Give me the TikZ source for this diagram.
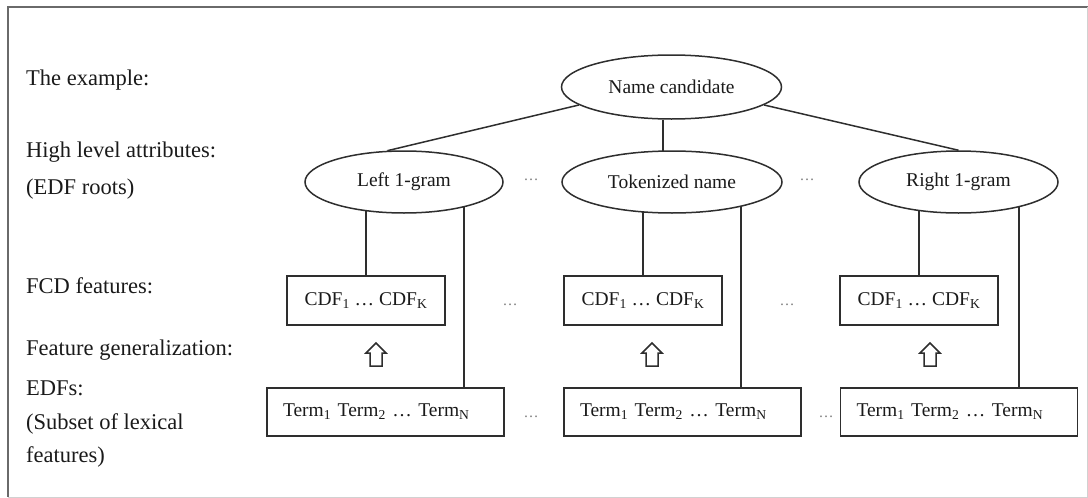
\documentclass[tikz,border=0pt]{standalone}
\usepackage{fontspec}
\setmainfont{Liberation Serif}
\usetikzlibrary{shapes.geometric,backgrounds}
\definecolor{lineC}{HTML}{2E2E2E}
\definecolor{textC}{HTML}{1A1A1A}
\definecolor{frameC}{HTML}{6A6A6A}
\definecolor{dotC}{HTML}{7A7A7A}
\begin{document}
\begin{tikzpicture}[x=1pt,y=-1pt,
  ell/.style={ellipse, draw=lineC, line width=1.5pt, fill=white, inner sep=0pt,
    font=\fontsize{19.5}{22}\selectfont, text=textC},
  cdfbox/.style={rectangle, draw=lineC, line width=1.7pt, fill=white, inner sep=0pt,
    minimum width=158pt, minimum height=49pt, font=\fontsize{19.5}{22}\selectfont, text=textC},
  termbox/.style={rectangle, draw=lineC, line width=1.7pt, fill=white, inner ysep=0pt,
    inner xsep=16pt, text width=205pt, align=left, minimum height=48pt,
    font=\fontsize{19.5}{22}\selectfont, text=textC},
  lab/.style={anchor=base west, inner sep=0pt, font=\fontsize{22.5}{26}\selectfont, text=textC},
  dots/.style={inner sep=0pt, font=\fontsize{15}{16}\selectfont, text=dotC},
  conn/.style={draw=lineC, line width=1.5pt},
  upar/.style={draw=lineC, line width=1.5pt, fill=white, line join=miter}
]
\useasboundingbox (0,0) rectangle (1088,498);
% frame
\draw[frameC, line width=2pt] (8,497) -- (8,7) -- (1088,7);
\draw[black!18, line width=1pt] (1087,7) -- (1087,497.5) -- (8,497.5);

% left labels
\node[lab] (lx1) at (26,85) {The example:};
\node[lab] (lx2) at (26,157) {High level attributes:};
\node[lab] (lx3) at (26,194) {(EDF roots)};
\node[lab] (lx4) at (26,293) {FCD features:};
\node[lab] (lx5) at (26,355) {Feature generalization:};
\node[lab] (lx6) at (26,395) {EDFs:};
\node[lab] (lx7) at (26,429) {(Subset of lexical};
\node[lab] (lx8) at (26,462) {features)};

% ellipses
\node[ell, minimum width=220pt, minimum height=64pt] (nc) at (671.5,87) {Name candidate};
\node[ell, minimum width=198pt, minimum height=62pt] (l1) at (404,182) {Left 1-gram};
\node[ell, minimum width=220pt, minimum height=62pt] (tok) at (672,182) {Tokenized name};
\node[ell, minimum width=199pt, minimum height=62pt] (r1) at (958.5,182) {Right 1-gram};

% CDF boxes
\node[cdfbox] (cdfL) at (366,300.5) {CDF\textsubscript{1} \dots\ CDF\textsubscript{K}};
\node[cdfbox] (cdfM) at (643,300.5) {CDF\textsubscript{1} \dots\ CDF\textsubscript{K}};
\node[cdfbox] (cdfR) at (919,300.5) {CDF\textsubscript{1} \dots\ CDF\textsubscript{K}};

% term boxes
\node[termbox] (termL) at (385.5,412) {Term\textsubscript{1} Term\textsubscript{2} \dots\ Term\textsubscript{N}};
\node[termbox] (termM) at (682.5,412) {Term\textsubscript{1} Term\textsubscript{2} \dots\ Term\textsubscript{N}};
\node[termbox] (termR) at (959,412) {Term\textsubscript{1} Term\textsubscript{2} \dots\ Term\textsubscript{N}};

% generalization arrows (open block arrows)
\foreach \ax/\nm in {376/aL, 652/aM, 930/aR}{
  \coordinate (\nm) at (\ax,343);
  \draw[upar] (\nm) -- ++(10,10) -- ++(-4,0) -- ++(0,13) -- ++(-12,0) -- ++(0,-13) -- ++(-4,0) -- cycle;
}

% dots
\node[dots] (d1) at (531,180) {\dots};
\node[dots] (d2) at (807,180) {\dots};
\node[dots] (d3) at (510,305) {\dots};
\node[dots] (d4) at (787,305) {\dots};
\node[dots] (d5) at (531,417) {\dots};
\node[dots] (d6) at (826,417) {\dots};

% connectors
\begin{scope}[on background layer]
\draw[conn] (nc.191) -- (l1.118);
\draw[conn] (nc.255) -- (nc.255 |- tok.center);
\draw[conn] (nc.349) -- (r1.north);
\draw[conn] (l1.center -| cdfL.north) -- (cdfL.north);
\draw[conn] (tok.center -| cdfM.north) -- (cdfM.north);
\draw[conn] (r1.center -| cdfR.north) -- (cdfR.north);
\draw[conn] ([xshift=60pt]l1.center) -- ([xshift=60pt]l1.center |- termL.north);
\draw[conn] ([xshift=69pt]tok.center) -- ([xshift=69pt]tok.center |- termM.north);
\draw[conn] ([xshift=60.5pt]r1.center) -- ([xshift=60.5pt]r1.center |- termR.north);
\end{scope}
\end{tikzpicture}
\end{document}
